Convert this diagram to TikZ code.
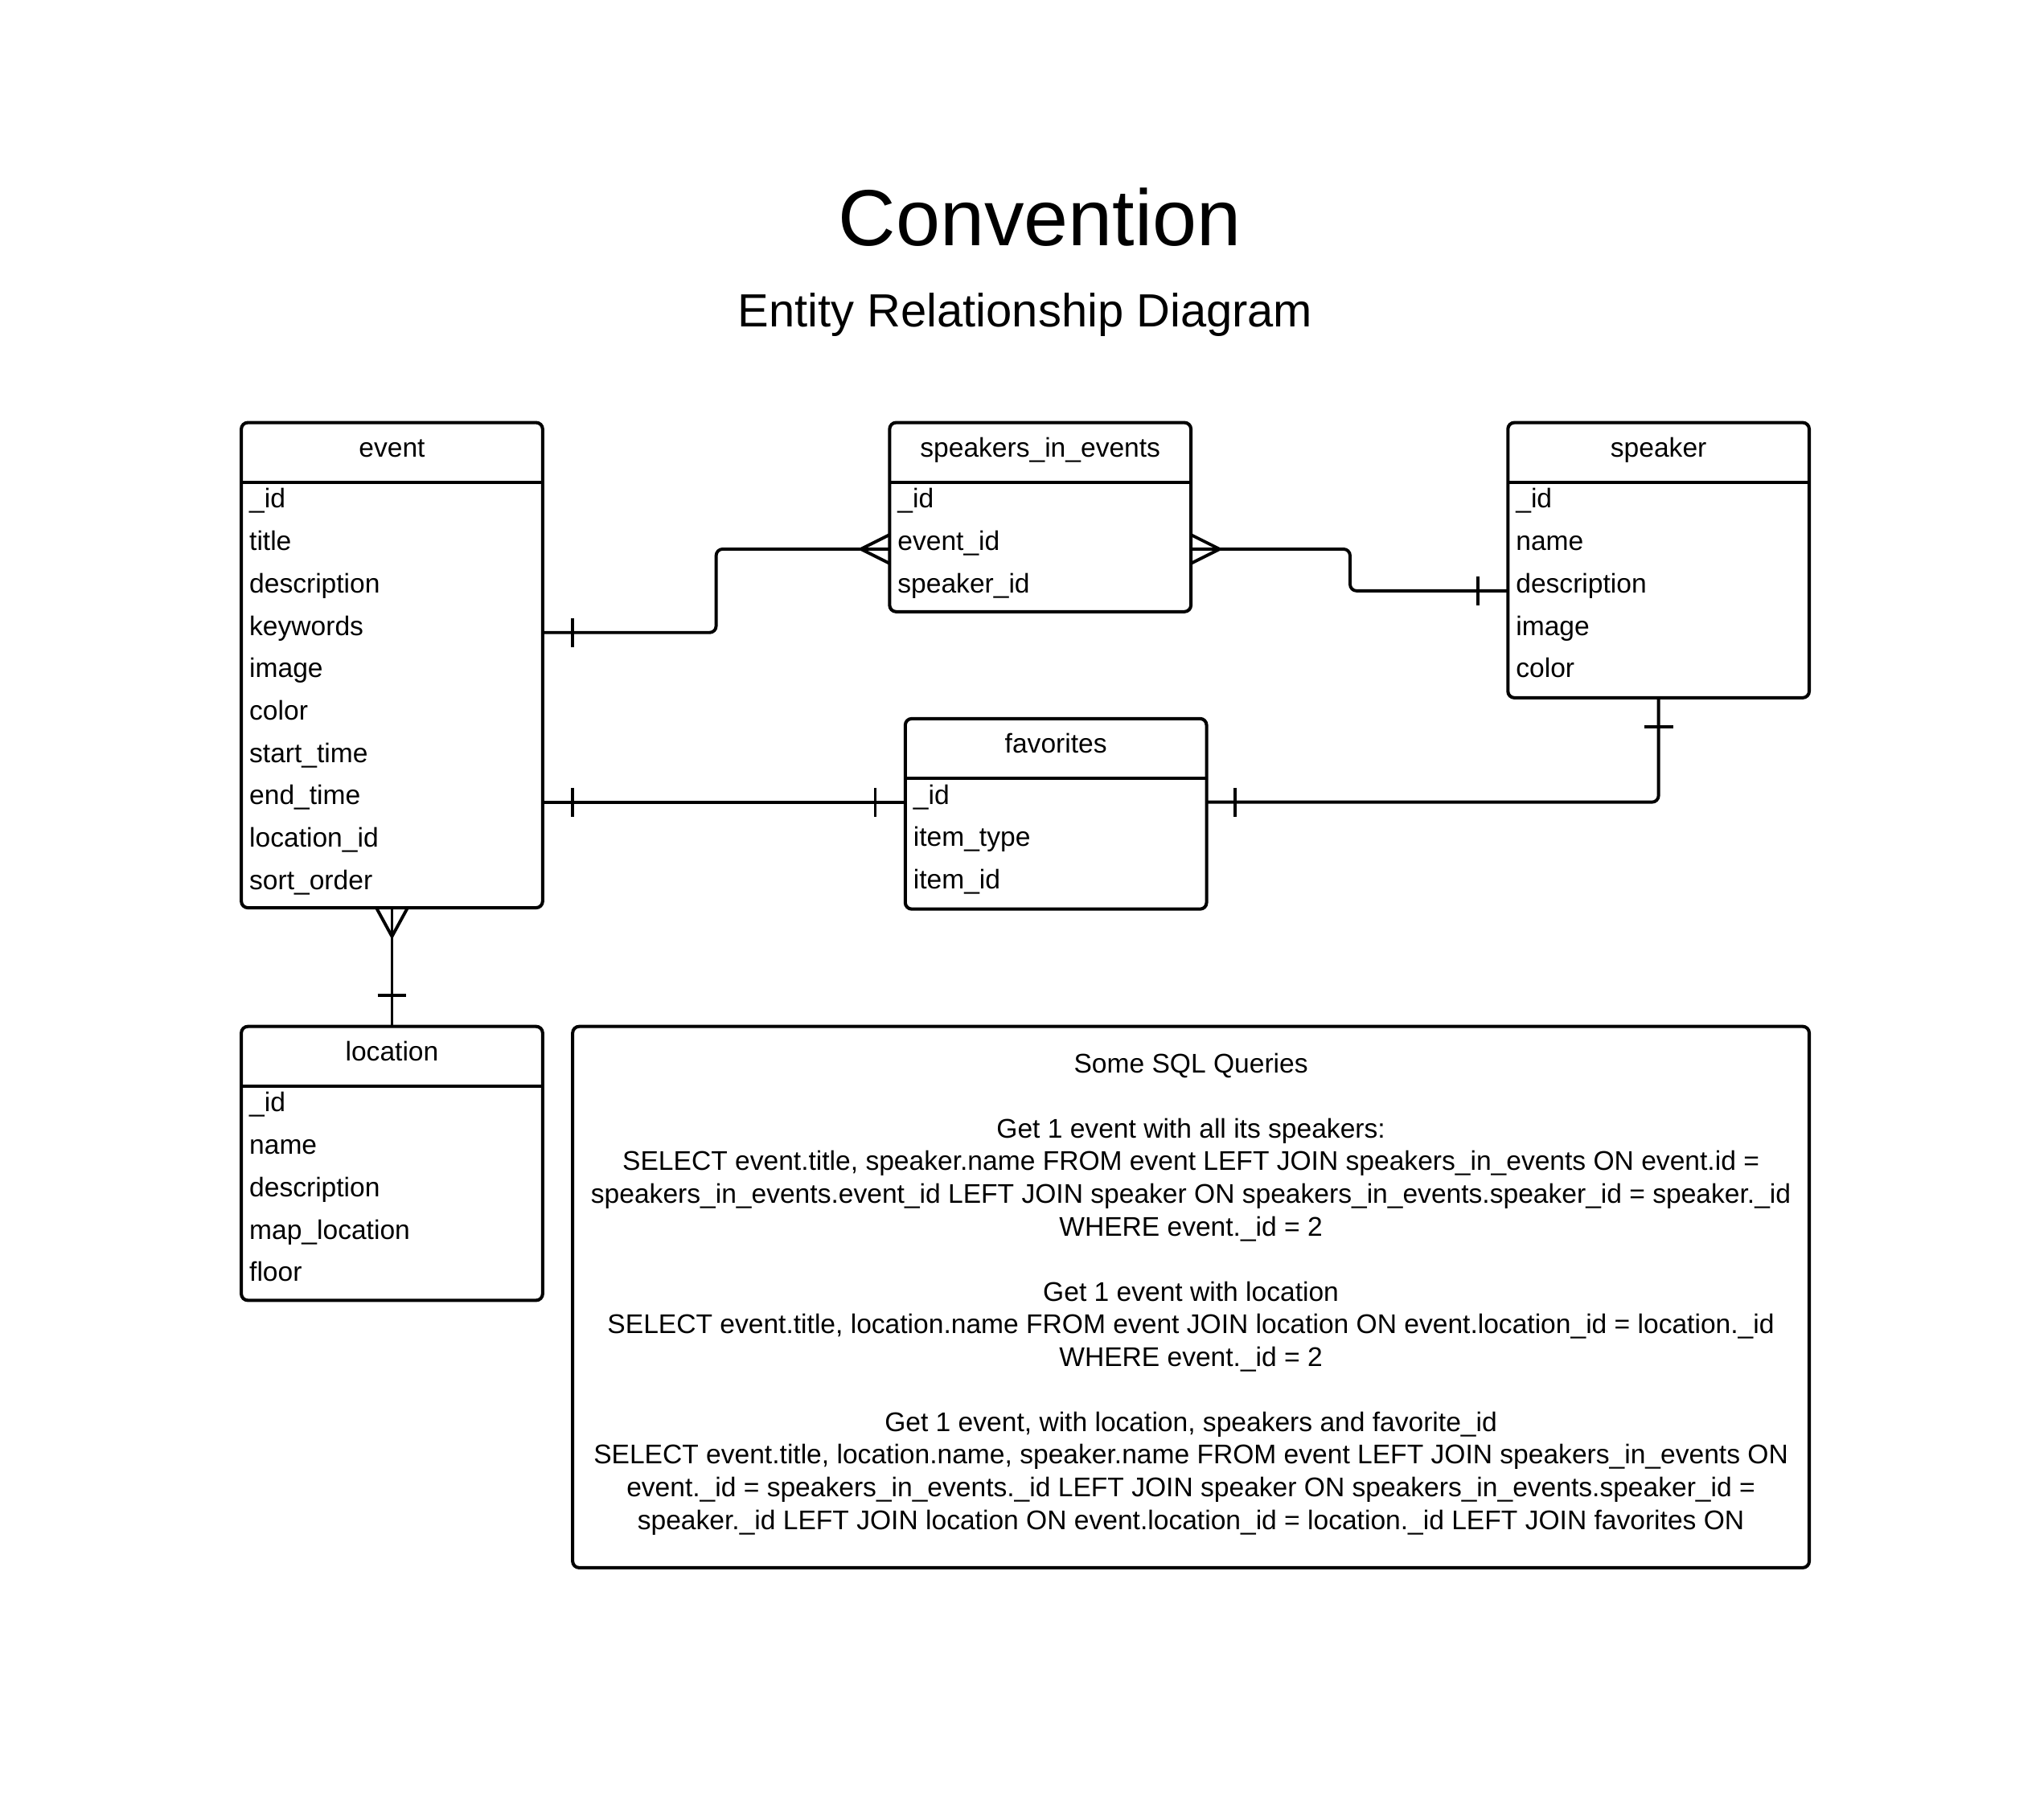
\documentclass[tikz,border=0pt]{standalone}
\usepackage{fontspec}
\setmainfont{Liberation Sans}
\usetikzlibrary{calc}
\tikzset{
  ebox/.style={draw, line width=2.5pt, rounded corners=5pt, minimum width=231pt, anchor=north west, inner sep=0pt, outer sep=0pt},
  sepline/.style={line width=2.5pt},
  rowtxt/.style={anchor=base west, inner sep=0pt, font=\fontsize{20.7}{25}\selectfont},
  hdrtxt/.style={anchor=base, inner sep=0pt, font=\fontsize{20.7}{25}\selectfont},
  sqltxt/.style={anchor=base, inner sep=0pt, font=\fontsize{20.7}{25}\selectfont},
  conn/.style={line width=2.4pt, rounded corners=5pt},
  tickmk/.style={line width=2.4pt},
  crowmk/.style={line width=2.4pt, line join=miter},
}
\newcommand\erbox[7]{%
  \node[ebox, minimum height=#4pt] (#1) at (#2,#3) {};
  \draw[sepline] ($(#1.north west)+(0,46)$) -- ($(#1.north east)+(0,46)$);
  \node[hdrtxt] (#1-h) at ($(#1.north)+(0,26.5)$) {#6};
  \foreach \t [count=\i] in {#7}
    \node[rowtxt] (#1-\i) at ($(#1.north west)+(6,{#5+32.5*(\i-1)})$) {\t};
}
\begin{document}
\begin{tikzpicture}[x=1pt,y=-1pt]
\useasboundingbox (0,0) rectangle (1567,1387);

\node[anchor=base, inner sep=0pt, font=\fontsize{61}{70}\selectfont] (title) at (797,188.5) {Convention};
\node[anchor=base, inner sep=0pt, font=\fontsize{35.7}{40}\selectfont] (subtitle) at (786,250.5) {Entity Relationship Diagram};

\erbox{event}{185}{324}{372}{65.5}{event}{\_id,title,description,keywords,image,color,start\_time,end\_time,location\_id,sort\_order}
\erbox{sie}{682}{324}{145}{65.5}{speakers\_in\_events}{\_id,event\_id,speaker\_id}
\erbox{speaker}{1156}{324}{211}{65.5}{speaker}{\_id,name,description,image,color}
\erbox{fav}{694}{551}{146}{65.5}{favorites}{\_id,item\_type,item\_id}
\erbox{location}{185}{787}{210}{65.5}{location}{\_id,name,description,map\_location,floor}

% SQL box
\node[ebox, minimum width=948pt, minimum height=415pt] (sql) at (439,787) {};
\node[sqltxt] (q1) at (913,822.5) {Some SQL Queries};
\node[sqltxt] (q2) at (913,872.5) {Get 1 event with all its speakers:};
\node[sqltxt] (q3) at (913,897.5) {SELECT event.title, speaker.name FROM event LEFT JOIN speakers\_in\_events ON event.id =};
\node[sqltxt] (q4) at (913,922.5) {speakers\_in\_events.event\_id LEFT JOIN speaker ON speakers\_in\_events.speaker\_id = speaker.\_id};
\node[sqltxt] (q5) at (913,947.5) {WHERE event.\_id = 2};
\node[sqltxt] (q6) at (913,997.5) {Get 1 event with location};
\node[sqltxt] (q7) at (913,1022.5) {SELECT event.title, location.name FROM event JOIN location ON event.location\_id = location.\_id};
\node[sqltxt] (q8) at (913,1047.5) {WHERE event.\_id = 2};
\node[sqltxt] (q9) at (913,1097.5) {Get 1 event, with location, speakers and favorite\_id};
\node[sqltxt] (q10) at (913,1122.5) {SELECT event.title, location.name, speaker.name FROM event LEFT JOIN speakers\_in\_events ON};
\node[sqltxt] (q11) at (913,1147.5) {event.\_id = speakers\_in\_events.\_id LEFT JOIN speaker ON speakers\_in\_events.speaker\_id =};
\node[sqltxt] (q12) at (913,1172.5) {speaker.\_id LEFT JOIN location ON event.location\_id = location.\_id LEFT JOIN favorites ON};

% event -- speakers_in_events
\draw[conn] ($(event.north east)+(0,161)$) -- ++(133,0) |- ($(sie.north west)+(0,97)$);
\draw[tickmk] ($(event.north east)+(23,150)$) -- ++(0,22);
\draw[crowmk] ($(sie.north west)+(0,86)$) -- ($(sie.north west)+(-22,97)$) -- ($(sie.north west)+(0,108)$);

% speakers_in_events -- speaker
\draw[conn] ($(sie.north east)+(0,97)$) -- ++(122,0) |- ($(speaker.north west)+(0,129)$);
\draw[crowmk] ($(sie.north east)+(0,86)$) -- ($(sie.north east)+(22,97)$) -- ($(sie.north east)+(0,108)$);
\draw[tickmk] ($(speaker.north west)+(-23,118)$) -- ++(0,22);

% event -- favorites
\draw[conn] ($(event.north east)+(0,291)$) -- ($(fav.north west)+(0,64)$);
\draw[tickmk] ($(event.north east)+(23,280)$) -- ++(0,22);
\draw[tickmk] ($(fav.north west)+(-23,53)$) -- ++(0,22);

% favorites -- speaker
\draw[conn] ($(fav.north east)+(0,64)$) -| (speaker.south);
\draw[tickmk] ($(fav.north east)+(22,53)$) -- ++(0,22);
\draw[tickmk] ($(speaker.south)+(-11,22)$) -- ++(22,0);

% event -- location
\draw[conn] (event.south) -- (location.north);
\draw[crowmk] ($(event.south)+(-12,0)$) -- ($(event.south)+(0,22)$) -- ($(event.south)+(12,0)$);
\draw[tickmk] ($(location.north)+(-11,-24)$) -- ++(22,0);
\end{tikzpicture}
\end{document}
